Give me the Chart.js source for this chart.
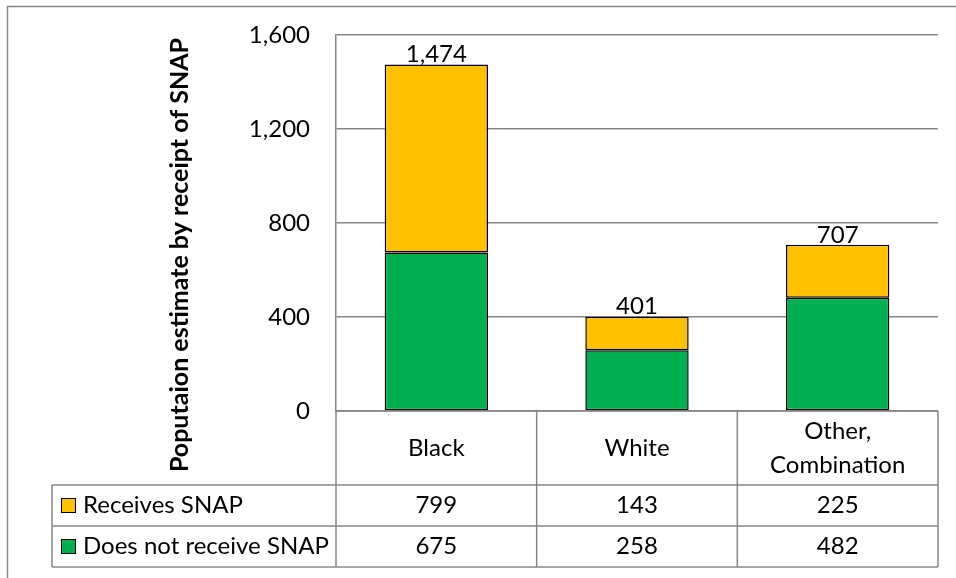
<!DOCTYPE html>
<html>
<head>
<meta charset="utf-8">
<script src="https://cdn.jsdelivr.net/npm/chart.js@4/dist/chart.umd.min.js"></script>
<style>
  html, body { margin: 0; padding: 0; background: #fff; }
  canvas { display: block; }
</style>
</head>
<body>
<canvas id="snapChart" width="956" height="578"></canvas>
<script>
// data
var categories = ['Black', 'White', ['Other,', 'Combination']];
var receives = [799, 143, 225];
var notReceive = [675, 258, 482];
var yTicks = [0, 400, 800, 1200, 1600];
var seriesNames = ['Receives SNAP', 'Does not receive SNAP'];
var yTitle = 'Poputaion estimate by receipt of SNAP';

var FONT = 'Lato, "Open Sans", sans-serif';
var LINE = '#868686';
var YELLOW = '#FFC000';
var GREEN = '#00B050';

var frame = {
    id: 'frame',
    beforeDraw: function(chart) {
        var ctx = chart.ctx;
        ctx.save();
        ctx.strokeStyle = LINE;
        ctx.lineWidth = 1.5;
        ctx.strokeRect(7.5, 6.5, 1000, 1000);
        ctx.restore();
    }
};

// totals above each stack
var totals = {
    id: 'totals',
    afterDatasetsDraw: function(chart) {
        var ctx = chart.ctx;
        var top = chart.getDatasetMeta(1);
        ctx.save();
        ctx.font = '24px ' + FONT;
        ctx.fillStyle = '#000';
        ctx.textAlign = 'center';
        ctx.textBaseline = 'bottom';
        top.data.forEach(function(bar, i) {
            var t = receives[i] + notReceive[i];
            ctx.fillText(t.toLocaleString('en-US'), bar.x, bar.y + 2);
        });
        ctx.restore();
    }
};

// Excel style data table under the plot + y title
var dataTable = {
    id: 'dataTable',
    afterDraw: function(chart) {
        var ctx = chart.ctx;
        var area = chart.chartArea;
        var xs = chart.scales.x;
        var cw = (area.right - area.left) / categories.length;
        var y0 = area.bottom, y1 = y0 + 74, y2 = y1 + 41, y3 = y2 + 41;
        var legL = 52;

        ctx.save();
        ctx.strokeStyle = LINE;
        ctx.lineWidth = 1.5;
        ctx.beginPath();
        // horizontals
        ctx.moveTo(area.left, y0); ctx.lineTo(area.right, y0);
        [y1, y2, y3].forEach(function(y) { ctx.moveTo(legL, y); ctx.lineTo(area.right, y); });
        // verticals
        for (var i = 0; i <= categories.length; i++) {
            var x = area.left + i * cw;
            ctx.moveTo(x, y0); ctx.lineTo(x, y3);
        }
        ctx.moveTo(legL, y1); ctx.lineTo(legL, y3);
        ctx.stroke();

        ctx.fillStyle = '#000';
        ctx.font = '24px ' + FONT;
        ctx.textAlign = 'center';
        ctx.textBaseline = 'middle';
        categories.forEach(function(c, i) {
            var cx = xs.getPixelForValue(i);
            var lines = Array.isArray(c) ? c : [c];
            var lh = 34;
            var start = (y0 + y1) / 2 - (lines.length - 1) * lh / 2;
            lines.forEach(function(l, k) { ctx.fillText(l, cx, start + k * lh); });
            ctx.fillText(receives[i], cx, (y1 + y2) / 2);
            ctx.fillText(notReceive[i], cx, (y2 + y3) / 2);
        });

        // legend keys in the row headers
        ctx.textAlign = 'left';
        [[seriesNames[0], YELLOW, y1], [seriesNames[1], GREEN, y2]].forEach(function(r) {
            var cy = (r[2] + r[2] + 41) / 2;
            ctx.fillStyle = r[1];
            ctx.fillRect(61, cy - 7.5, 15, 15);
            ctx.strokeStyle = '#000';
            ctx.lineWidth = 1;
            ctx.strokeRect(61.5, cy - 7, 14, 14);
            ctx.fillStyle = '#000';
            ctx.fillText(r[0], 83, cy);
        });

        // y axis title
        ctx.translate(180, 255);
        ctx.rotate(-Math.PI / 2);
        ctx.textAlign = 'center';
        ctx.font = 'bold 25px ' + FONT;
        ctx.fillText(yTitle, 0, 0);
        ctx.restore();
    }
};

var chart = new Chart(document.getElementById('snapChart'), {
    type: 'bar',
    data: {
        labels: categories,
        datasets: [{
            label: seriesNames[1],
            data: notReceive,
            backgroundColor: GREEN
        }, {
            label: seriesNames[0],
            data: receives,
            backgroundColor: YELLOW
        }]
    },
    options: {
        responsive: false,
        animation: false,
        devicePixelRatio: 1,
        layout: { padding: { left: 7, right: 18, top: 35, bottom: 11 } },
        datasets: {
            bar: {
                categoryPercentage: 1,
                barPercentage: 0.515,
                borderColor: '#000',
                borderWidth: 1.5,
                borderSkipped: false
            }
        },
        plugins: {
            legend: { display: false },
            tooltip: { enabled: false }
        },
        scales: {
            x: {
                stacked: true,
                grid: { display: false },
                border: { display: false },
                ticks: { display: false },
                afterFit: function(s) { s.height = 156; s.paddingLeft = 0; s.paddingRight = 0; }
            },
            y: {
                stacked: true,
                min: 0,
                max: 1600,
                afterBuildTicks: function(s) { s.ticks = yTicks.map(function(v) { return { value: v }; }); },
                afterFit: function(s) { s.width = 336 - 7; s.paddingTop = 0; s.paddingBottom = 0; },
                grid: { color: LINE, lineWidth: 1.5, drawTicks: false },
                border: { display: true, color: LINE, width: 1.5 },
                ticks: {
                    padding: 26,
                    color: '#000',
                    font: { family: FONT, size: 24 },
                    callback: function(v) { return v.toLocaleString('en-US'); }
                }
            }
        }
    },
    plugins: [frame, totals, dataTable]
});
</script>
</body>
</html>
